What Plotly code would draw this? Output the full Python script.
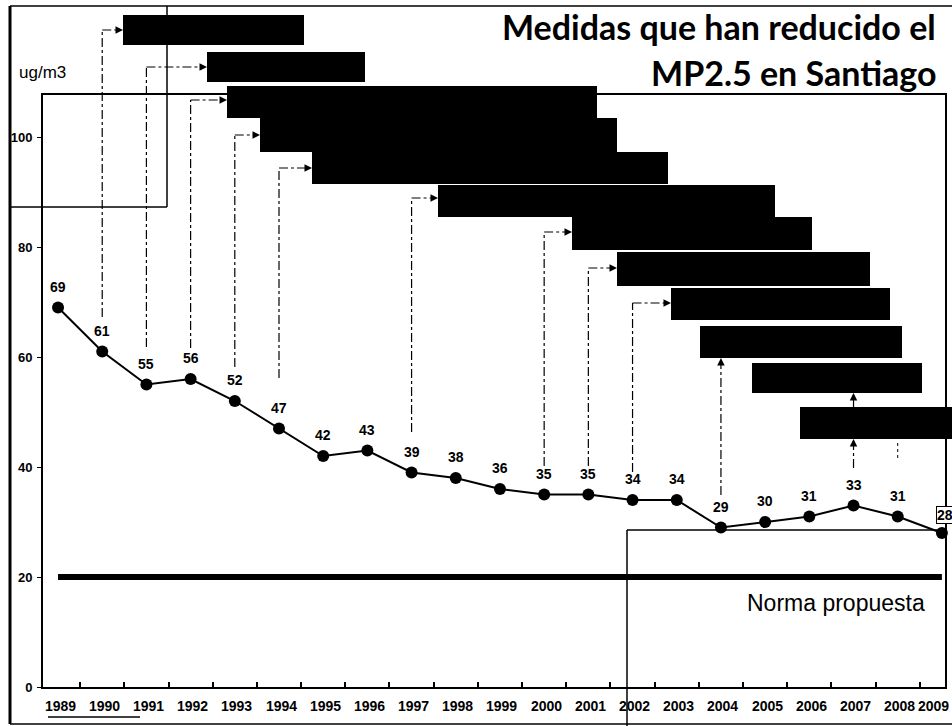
import plotly.graph_objects as go

# ---------------- data ----------------
years = [1989, 1990, 1991, 1992, 1993, 1994, 1995, 1996, 1997, 1998, 1999,
         2000, 2001, 2002, 2003, 2004, 2005, 2006, 2007, 2008, 2009]
mp25 = [69, 61, 55, 56, 52, 47, 42, 43, 39, 38, 36,
        35, 35, 34, 34, 29, 30, 31, 33, 31, 28]
norma = 20
norma_label = "Norma propuesta"
y_ticks = [0, 20, 40, 60, 80, 100]
title_lines = ["Medidas que han reducido el", "MP2.5 en Santiago"]
unit_label = "ug/m3"
# years at which a measure (redacted box) was introduced
measure_years = [1990, 1991, 1992, 1993, 1994, 1997, 2000, 2001, 2002]

# ---------------- layout geometry (pixels) ----------------
W_FIG, H_FIG = 952, 726
L, R, T, B = 43, 945, 95, 687
PW, PH = R - L, B - T
X0, X1 = 1988.66, 2009.07
Y0, Y1 = 0, (B - T) / 5.5


def px(x):
    return (x - L) / PW


def py(y):
    return (B - y) / PH


def xv(xp):
    return X0 + (xp - L) / PW * (X1 - X0)


fig = go.Figure()

fig.add_trace(go.Scatter(
    x=[years[0], years[-1]], y=[norma, norma], mode="lines",
    line=dict(color="black", width=6), hoverinfo="skip", showlegend=False))

fig.add_trace(go.Scatter(
    x=years, y=mp25, mode="lines+markers",
    line=dict(color="black", width=2),
    marker=dict(color="black", size=12),
    showlegend=False, cliponaxis=False))

annotations = []
lab_font = dict(family="Liberation Sans Narrow, Liberation Sans, Arial", size=14, color="black")
for i, (yr, v) in enumerate(zip(years, mp25)):
    if i == len(years) - 1:
        annotations.append(dict(x=yr, y=v, xref="x", yref="y", text=f"<b>{v}</b>",
                                showarrow=False, xshift=3, yshift=18, font=lab_font,
                                bordercolor="black", borderwidth=1, borderpad=0,
                                bgcolor="white"))
    else:
        annotations.append(dict(x=yr, y=v, xref="x", yref="y", text=f"<b>{v}</b>",
                                showarrow=False, yshift=21, font=lab_font))

# x tick labels (as annotations so the last one can stay inside the page)
tick_font = dict(family="Liberation Sans Narrow, Liberation Sans, Arial", size=14, color="black")
for i, yr in enumerate(years):
    last = i == len(years) - 1
    annotations.append(dict(x=yr, y=py(706), xref="x", yref="paper", text=f"<b>{yr}</b>",
                            showarrow=False, xanchor="right" if last else "center",
                            xshift=9 if last else 2, yanchor="middle", font=tick_font))

# redacted measure boxes (pixel rectangles)
boxes = [(123, 15, 304, 45), (207, 52, 365, 82), (227, 86, 597, 118),
         (260, 118, 617, 152), (312, 152, 668, 184), (438, 185, 775, 217),
         (572, 217, 812, 250), (617, 252, 870, 286), (671, 288, 890, 320),
         (700, 326, 902, 358), (752, 363, 922, 393), (800, 407, 952, 439)]
shapes = []
for (x0, y0, x1, y1) in boxes:
    shapes.append(dict(type="rect", xref="paper", yref="paper",
                       x0=px(x0), x1=px(x1), y0=py(y1), y1=py(y0),
                       fillcolor="black", line=dict(width=0), layer="above"))

# connectors from data years to boxes
conn_bottom = [317, 347, 348, 367, 378, 432, 466, 466, 472]
conn_row = [30, 67, 100, 135, 168, 198, 232, 268, 303]
conn_box = [123, 207, 227, 260, 312, 438, 572, 617, 671]
dline = dict(color="black", width=1.2, dash="dashdot")
for yr, b, r, bx in zip(measure_years, conn_bottom, conn_row, conn_box):
    shapes.append(dict(type="line", xref="x", yref="paper", x0=yr, x1=yr,
                       y0=py(b), y1=py(r), line=dline))
    shapes.append(dict(type="line", xref="x", yref="paper", x0=yr, x1=xv(bx - 6),
                       y0=py(r), y1=py(r), line=dline))
    annotations.append(dict(x=xv(bx), y=py(r), xref="x", yref="paper", text="",
                            showarrow=True, ax=-8, ay=0, arrowhead=2, arrowsize=1,
                            arrowwidth=1.5, arrowcolor="black"))

# upward connectors
up_conn = [(2004, 495, 358), (2007, 468, 439), (2007, 407, 393)]
for yr, b, top in up_conn:
    shapes.append(dict(type="line", xref="x", yref="paper", x0=yr, x1=yr,
                       y0=py(b), y1=py(top + 6), line=dline))
    annotations.append(dict(x=yr, y=py(top), xref="x", yref="paper", text="",
                            showarrow=True, ax=0, ay=8, arrowhead=2, arrowsize=1,
                            arrowwidth=1.5, arrowcolor="black"))
shapes.append(dict(type="line", xref="x", yref="paper", x0=2008, x1=2008,
                   y0=py(458), y1=py(440), line=dict(color="black", width=1, dash="dot")))

# frame / scan lines
frame = dict(color="black", width=1.5)
shapes += [
    dict(type="line", xref="paper", yref="paper", x0=px(10), x1=px(10), y0=py(6), y1=py(724),
         line=dict(color="black", width=3)),
    dict(type="line", xref="paper", yref="paper", x0=px(10), x1=px(952), y0=py(6), y1=py(6), line=frame),
    dict(type="line", xref="paper", yref="paper", x0=px(10), x1=px(952), y0=py(724), y1=py(724), line=frame),
    dict(type="line", xref="paper", yref="paper", x0=px(10), x1=px(167), y0=py(207), y1=py(207), line=frame),
    dict(type="line", xref="paper", yref="paper", x0=px(167), x1=px(167), y0=py(6), y1=py(207), line=frame),
    dict(type="line", xref="paper", yref="paper", x0=px(627), x1=px(945), y0=py(530), y1=py(530), line=frame),
    dict(type="line", xref="paper", yref="paper", x0=px(627), x1=px(627), y0=py(530), y1=py(726), line=frame),
    dict(type="line", xref="paper", yref="paper", x0=px(48), x1=px(140), y0=py(717), y1=py(717), line=frame),
]

# texts
title_font = dict(family="Lato, Open Sans, sans-serif", size=34, color="black")
annotations += [
    dict(x=px(938), y=py(27), xref="paper", yref="paper", text=f"<b>{title_lines[0]}</b>",
         showarrow=False, xanchor="right", yanchor="middle", font=title_font),
    dict(x=px(938), y=py(72), xref="paper", yref="paper", text=f"<b>{title_lines[1]}</b>",
         showarrow=False, xanchor="right", yanchor="middle", font=title_font),
    dict(x=px(17), y=py(72), xref="paper", yref="paper", text=unit_label,
         showarrow=False, xanchor="left", yanchor="middle",
         font=dict(family="Liberation Sans, Arial", size=17, color="black")),
    dict(x=px(927), y=py(603), xref="paper", yref="paper", text=norma_label,
         showarrow=False, xanchor="right", yanchor="middle",
         font=dict(family="Liberation Sans, Arial", size=23, color="black")),
]

fig.update_layout(
    width=W_FIG, height=H_FIG,
    margin=dict(l=L, r=W_FIG - R, t=T, b=H_FIG - B),
    paper_bgcolor="white", plot_bgcolor="white",
    shapes=shapes, annotations=annotations,
    xaxis=dict(range=[X0, X1], tickvals=years, showticklabels=False,
               ticks="", showgrid=False, zeroline=False, showline=True, linecolor="black",
               linewidth=2, mirror=True, automargin=False,
               minor=dict(tick0=1988.5, dtick=1, ticks="inside", ticklen=5,
                          tickcolor="black", tickwidth=1.5, showgrid=False)),
    yaxis=dict(range=[Y0, Y1], tickvals=y_ticks, ticktext=[f"<b>{v}</b>" for v in y_ticks],
               ticks="outside", ticklen=4, tickcolor="black", showgrid=False, zeroline=False,
               showline=True, linecolor="black", linewidth=2, mirror=True, automargin=False,
               tickfont=dict(family="Liberation Sans Narrow, Liberation Sans, Arial", size=13,
                             color="black"),
               ticklabelstandoff=2),
)

fig.write_html("out.html", config={"displayModeBar": False},
               post_script="document.body.style.margin='0';document.body.style.padding='0';")
